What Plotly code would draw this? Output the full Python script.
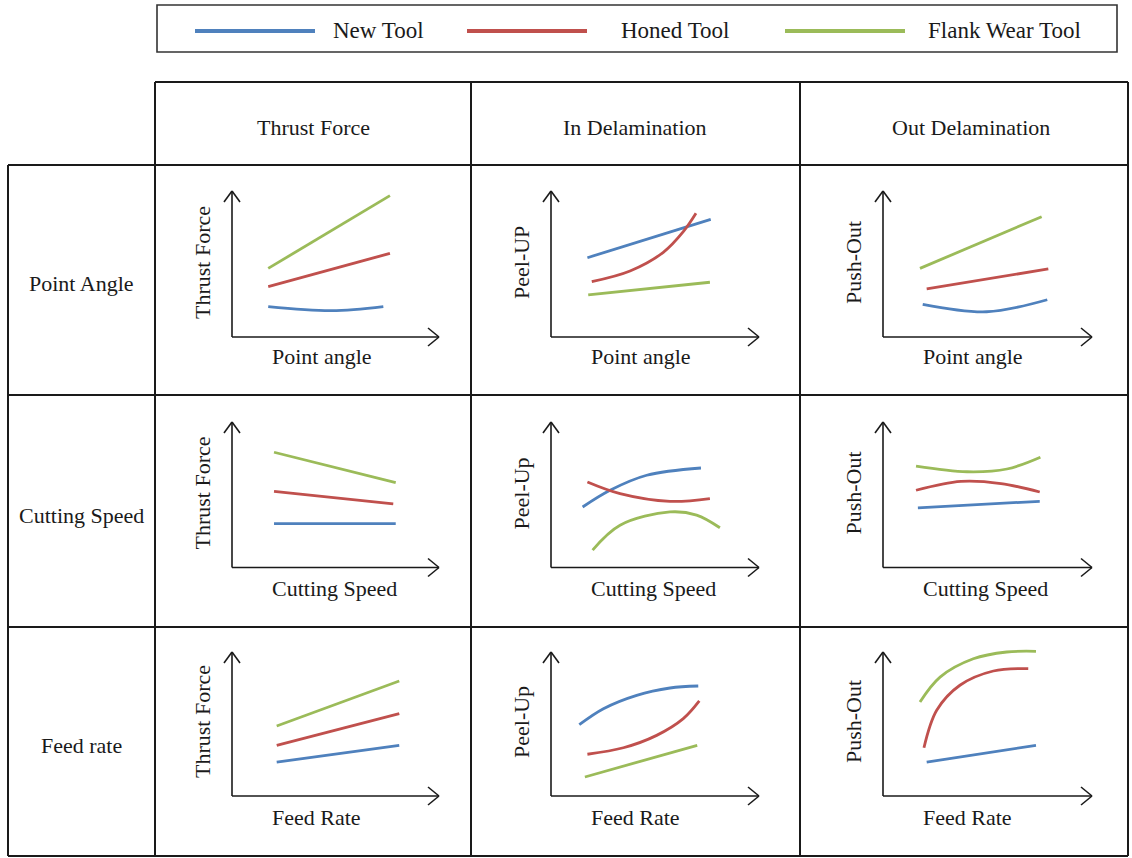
import plotly.graph_objects as go

# ---------------- data ----------------
SERIES = ["New Tool", "Honed Tool", "Flank Wear Tool"]
COLORS = ["#4F81BD", "#C0504D", "#9BBB59"]
COL_HEADERS = ["Thrust Force", "In Delamination", "Out Delamination"]
ROW_HEADERS = ["Point Angle", "Cutting Speed", "Feed rate"]
X_TITLES = ["Point angle", "Cutting Speed", "Feed Rate"]
Y_TITLES = [["Thrust Force", "Peel-UP", "Push-Out"],
            ["Thrust Force", "Peel-Up", "Push-Out"],
            ["Thrust Force", "Peel-Up", "Push-Out"]]

# qualitative curves, (x, y) in relative axis units (0 = origin, 1 = arrow tip)
# Row 1: point angle
PA_THRUST_NEW = ([0.175, 0.481, 0.731], [0.208, 0.180, 0.208])
PA_THRUST_HONED = ([0.175, 0.763], [0.345, 0.573])
PA_THRUST_FLANK = ([0.175, 0.763], [0.470, 0.968])
PA_PEEL_NEW = ([0.175, 0.768], [0.543, 0.806])
PA_PEEL_HONED = ([0.196, 0.380, 0.540, 0.636, 0.697], [0.379, 0.452, 0.580, 0.721, 0.847])
PA_PEEL_FLANK = ([0.179, 0.764], [0.288, 0.375])
PA_PUSH_NEW = ([0.190, 0.496, 0.786], [0.224, 0.173, 0.255])
PA_PUSH_HONED = ([0.209, 0.791], [0.329, 0.466])
PA_PUSH_FLANK = ([0.177, 0.759], [0.470, 0.824])
# Row 2: cutting speed
CS_THRUST_NEW = ([0.203, 0.791], [0.301, 0.301])
CS_THRUST_HONED = ([0.203, 0.779], [0.523, 0.438])
CS_THRUST_FLANK = ([0.203, 0.791], [0.792, 0.584])
CS_PEEL_NEW = ([0.152, 0.284, 0.460, 0.721], [0.416, 0.531, 0.634, 0.684])
CS_PEEL_HONED = ([0.175, 0.332, 0.572, 0.764], [0.588, 0.508, 0.455, 0.474])
CS_PEEL_FLANK = ([0.200, 0.332, 0.572, 0.700, 0.812], [0.120, 0.291, 0.382, 0.360, 0.273])
CS_PUSH_NEW = ([0.167, 0.750], [0.410, 0.455])
CS_PUSH_HONED = ([0.158, 0.373, 0.565, 0.750], [0.531, 0.592, 0.577, 0.519])
CS_PUSH_FLANK = ([0.158, 0.402, 0.593, 0.753], [0.697, 0.658, 0.677, 0.758])
# Row 3: feed rate
FR_THRUST_NEW = ([0.216, 0.808], [0.236, 0.352])
FR_THRUST_HONED = ([0.216, 0.808], [0.352, 0.572])
FR_THRUST_FLANK = ([0.216, 0.808], [0.486, 0.799])
FR_PEEL_NEW = ([0.136, 0.252, 0.412, 0.572, 0.708], [0.495, 0.606, 0.699, 0.750, 0.764])
FR_PEEL_HONED = ([0.175, 0.348, 0.508, 0.636, 0.713], [0.290, 0.335, 0.421, 0.537, 0.660])
FR_PEEL_FLANK = ([0.163, 0.703], [0.132, 0.352])
FR_PUSH_NEW = ([0.209, 0.732], [0.236, 0.352])
FR_PUSH_HONED = ([0.196, 0.257, 0.368, 0.528, 0.695], [0.335, 0.595, 0.769, 0.868, 0.884])
FR_PUSH_FLANK = ([0.177, 0.273, 0.432, 0.592, 0.732], [0.653, 0.826, 0.953, 1.000, 1.005])

PANELS = [
    [(PA_THRUST_NEW, PA_THRUST_HONED, PA_THRUST_FLANK),
     (PA_PEEL_NEW, PA_PEEL_HONED, PA_PEEL_FLANK),
     (PA_PUSH_NEW, PA_PUSH_HONED, PA_PUSH_FLANK)],
    [(CS_THRUST_NEW, CS_THRUST_HONED, CS_THRUST_FLANK),
     (CS_PEEL_NEW, CS_PEEL_HONED, CS_PEEL_FLANK),
     (CS_PUSH_NEW, CS_PUSH_HONED, CS_PUSH_FLANK)],
    [(FR_THRUST_NEW, FR_THRUST_HONED, FR_THRUST_FLANK),
     (FR_PEEL_NEW, FR_PEEL_HONED, FR_PEEL_FLANK),
     (FR_PUSH_NEW, FR_PUSH_HONED, FR_PUSH_FLANK)],
]

# ---------------- layout geometry (pixels) ----------------
W, H = 1132, 858
FONT = "Liberation Serif, Times New Roman, serif"
INK = "#1a1a1a"

def px(x):
    return x / W

def py(y):
    return 1 - y / H

COL_X = [155, 471, 800, 1128]
ROW_Y = [165, 395, 627, 856]
ORIGIN_X = [232, 551, 883]
TIP_X = [439, 759, 1092]
ORIGIN_Y = [337, 567.5, 796]
TOP_Y = [191, 422, 652]
XT_Y = [357, 588, 817]
PAD = 8

fig = go.Figure()
shapes = []
annotations = []

def line(x0, y0, x1, y1, width=2, color=INK):
    shapes.append(dict(type="line", xref="paper", yref="paper",
                       x0=px(x0), y0=py(y0), x1=px(x1), y1=py(y1),
                       line=dict(color=color, width=width)))

def text(t, x, y, size=22, xanchor="center", angle=0):
    annotations.append(dict(text=t, x=px(x), y=py(y), xref="paper", yref="paper",
                            showarrow=False, xanchor=xanchor, yanchor="middle",
                            textangle=angle,
                            font=dict(family=FONT, size=size, color=INK)))

k = 0
for r in range(3):
    for c in range(3):
        k += 1
        ox, tx, oy, ty = ORIGIN_X[c], TIP_X[c], ORIGIN_Y[r], TOP_Y[r]
        w, h = tx - ox, oy - ty
        xa = "x" if k == 1 else f"x{k}"
        ya = "y" if k == 1 else f"y{k}"
        fig.layout[f"xaxis{'' if k == 1 else k}"] = dict(
            domain=[(ox - PAD) / W, (tx + PAD) / W], range=[-PAD / w, 1 + PAD / w],
            visible=False, anchor=ya, fixedrange=True)
        fig.layout[f"yaxis{'' if k == 1 else k}"] = dict(
            domain=[1 - (oy + PAD) / H, 1 - (ty - PAD) / H], range=[-PAD / h, 1 + PAD / h],
            visible=False, anchor=xa, fixedrange=True)
        for s, (xs, ys) in enumerate(PANELS[r][c]):
            fig.add_trace(go.Scatter(
                x=xs, y=ys, xaxis=xa, yaxis=ya, mode="lines", name=SERIES[s],
                showlegend=False, hoverinfo="skip",
                line=dict(color=COLORS[s], width=2.8, shape="spline", smoothing=1.0)))
        # arrow axes
        line(ox, oy, ox, ty, 1.6)
        line(ox - 8, ty + 11, ox, ty, 1.6)
        line(ox + 8, ty + 11, ox, ty, 1.6)
        line(ox, oy, tx, oy, 1.6)
        line(tx - 11, oy - 9, tx, oy, 1.6)
        line(tx - 11, oy + 9, tx, oy, 1.6)
        # axis titles
        text(X_TITLES[r], ox + 38, XT_Y[r], 22, xanchor="left")
        text(Y_TITLES[r][c], ox - 30, oy - 74, 22, angle=-90)

# table grid
line(COL_X[0], 82, COL_X[3], 82)
line(8, ROW_Y[0], COL_X[3], ROW_Y[0])
line(8, ROW_Y[1], COL_X[3], ROW_Y[1])
line(8, ROW_Y[2], COL_X[3], ROW_Y[2])
line(8, ROW_Y[3], COL_X[3], ROW_Y[3])
line(8, ROW_Y[0], 8, ROW_Y[3])
for xv in COL_X:
    line(xv, 82, xv, ROW_Y[3])

# headers
HEADER_CX = [314, 635, 971]
for c in range(3):
    text(COL_HEADERS[c], HEADER_CX[c], 127, 22)
ROW_CY = [283, 515, 745]
for r in range(3):
    text(ROW_HEADERS[r], 81, ROW_CY[r], 22)

# legend box
shapes.append(dict(type="rect", xref="paper", yref="paper",
                   x0=px(157), y0=py(52), x1=px(1117), y1=py(5),
                   line=dict(color="#333333", width=1.6), fillcolor="rgba(0,0,0,0)"))
LEG_LINE_X = [195, 467, 785]
LEG_TEXT_X = [331, 619, 926]
for s in range(3):
    line(LEG_LINE_X[s], 31, LEG_LINE_X[s] + 120, 31, 4, COLORS[s])
    text(SERIES[s], LEG_TEXT_X[s], 30, 23, xanchor="left")

fig.update_layout(width=W, height=H, margin=dict(l=0, r=0, t=0, b=0),
                  paper_bgcolor="white", plot_bgcolor="rgba(0,0,0,0)",
                  shapes=shapes, annotations=annotations, showlegend=False)

fig.write_html("out.html", config={"displayModeBar": False},
               post_script="document.body.style.margin='0';"
                           "document.body.style.overflow='hidden';"
                           "document.documentElement.style.overflow='hidden';")
